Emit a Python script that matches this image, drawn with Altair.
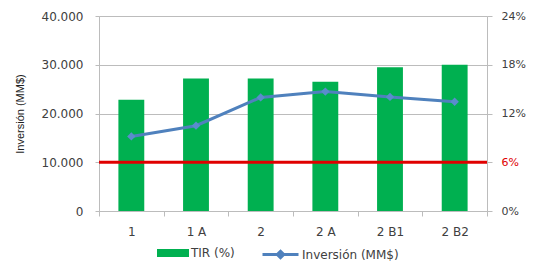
import altair as alt
import pandas as pd

categories = ["1", "1 A", "2", "2 A", "2 B1", "2 B2"]
tir_pct = [13.7, 16.3, 16.3, 15.9, 17.7, 18.0]
inversion = [15300, 17500, 23300, 24500, 23400, 22400]
threshold_inv = [10000]
left_ticks = [0, 10000, 20000, 30000, 40000]
right_ticks = [0, 6, 12, 18, 24]

df = pd.DataFrame({
    "cat": categories,
    "tir": tir_pct,
    "inv": inversion,
    "s_tir": ["TIR (%)"] * len(categories),
    "s_inv": ["Inversión (MM$)"] * len(categories),
})
df_rule = pd.DataFrame({"inv": threshold_inv})

GREEN = "#00b050"
BLUE = "#4f81bd"
RED = "#e00000"
GRID = "#bcbcbc"
TXT = "#404040"
FONT = "DejaVu Sans"

x_enc = alt.X(
    "cat:N", sort=None, title=None,
    scale=alt.Scale(paddingInner=0, paddingOuter=0),
    axis=alt.Axis(labelAngle=0, tickBand="extent", tickSize=5, domainColor=GRID,
                  tickColor=GRID, labelFont=FONT, labelFontSize=12, labelColor=TXT,
                  labelPadding=10, grid=False),
)

bars = alt.Chart(df).mark_bar(color=GREEN, width=alt.RelativeBandSize(0.4)).encode(
    x=x_enc,
    y=alt.Y("tir:Q", title=None,
            scale=alt.Scale(domain=[0, 24]),
            axis=alt.Axis(orient="right", values=right_ticks, labelExpr="datum.value + '%'",
                          grid=False, tickSize=5, domainColor=GRID, tickColor=GRID,
                          labelFont=FONT, labelFontSize=11, labelPadding=9,
                          labelColor=alt.condition("datum.value == 6", alt.value(RED), alt.value(TXT)))),
    color=alt.Color("s_tir:N", scale=alt.Scale(domain=["TIR (%)"], range=[GREEN]),
                    legend=alt.Legend(title=None, orient="none", legendX=58, legendY=221,
                                      symbolType="M-1,-0.25L1,-0.25L1,0.25L-1,0.25Z",
                                      symbolSize=1024, symbolStrokeWidth=0,
                                      labelFont=FONT, labelFontSize=12, labelColor=TXT,
                                      labelOffset=2)),
)

left_y = alt.Y("inv:Q", title="Inversión (MM$)",
               scale=alt.Scale(domain=[0, 40000]),
               axis=alt.Axis(orient="left", values=left_ticks,
                             labelExpr="replace(format(datum.value, ','), ',', '.')",
                             grid=True, gridColor=GRID, tickSize=4, domainColor=GRID,
                             tickColor=GRID, labelFont=FONT, labelFontSize=12,
                             labelColor=TXT, labelPadding=12,
                             titleFont="Liberation Sans", titleFontSize=11,
                             titleFontWeight="normal", titleColor="#202020",
                             titlePadding=16))

line = alt.Chart(df).mark_line(strokeWidth=3, color=BLUE).encode(
    x=x_enc,
    y=left_y,
    color=alt.Color("s_inv:N", scale=alt.Scale(domain=["Inversión (MM$)"], range=[BLUE]),
                    legend=alt.Legend(title=None, orient="none", legendX=162, legendY=219,
                                      symbolType="M-1,0L1,0M0,-0.18L0.18,0L0,0.18L-0.18,0Z",
                                      symbolSize=1296, symbolStrokeWidth=3,
                                      symbolFillColor=BLUE, symbolStrokeColor=BLUE,
                                      labelFont=FONT, labelFontSize=12, labelColor=TXT,
                                      labelOffset=2)),
)

points = alt.Chart(df).mark_point(shape="diamond", size=70, filled=True, color="#5a8ccc",
                                  opacity=1).encode(
    x=x_enc,
    y=left_y,
)

rule = alt.Chart(df_rule).mark_rule(color=RED, strokeWidth=3).encode(
    y=left_y
)

left_layer = alt.layer(line, points, rule)

chart = alt.layer(bars, left_layer).resolve_scale(
    y="independent", color="independent"
).resolve_legend(color="independent").properties(
    width=388, height=195,
    autosize=alt.AutoSizeParams(type="none"),
    padding={"left": 91, "top": 8, "right": 40, "bottom": 50},
).configure_view(stroke=None).configure(background="white")

chart.save("out.html", embed_options={"renderer": "svg", "actions": False})
